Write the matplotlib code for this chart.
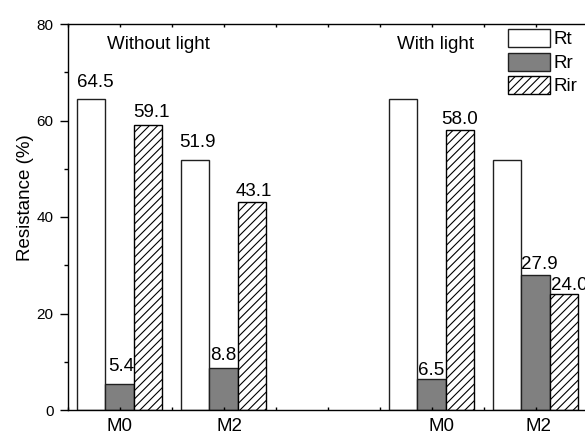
import numpy as np
import matplotlib
matplotlib.use("Agg")
import matplotlib.pyplot as plt
import matplotlib.transforms as mtransforms
from matplotlib.ticker import MultipleLocator

plt.rcParams['font.family'] = ['Liberation Sans', 'DejaVu Sans']
plt.rcParams['hatch.linewidth'] = 0.8

# Data
samples = ["M0", "M2", "M0", "M2"]
positions = [1, 2, 4, 5]
rt = [64.5, 51.9, 64.5, 51.9]
rr = [5.4, 8.8, 6.5, 27.9]
rir = [59.1, 43.1, 58.0, 24.0]
label_rt = [True, True, False, False]
conditions = ["Without light", "With light"]
condition_x = [0.88, 3.67]

W, H, DPI = 585, 433, 100
PT = 72 / DPI  # points per pixel
fig = plt.figure(figsize=(W / DPI, H / DPI), dpi=DPI)
ax = fig.add_axes([67.5 / W, 23 / H, 520 / W, 386 / H])

w = 0.27
x = np.array(positions, dtype=float)
b_rt = ax.bar(x - w, rt, w, facecolor="white", edgecolor="#202020", lw=1.0, label="Rt")
b_rr = ax.bar(x, rr, w, facecolor="#808080", edgecolor="#202020", lw=1.0, label="Rr")
b_rir = ax.bar(x + w, rir, w, facecolor="white", edgecolor="black", hatch="////",
               lw=1.0, label="Rir")

fs = 13.5

# Hand-placed value labels: (dx, dy) in pixels from the bar's top-left corner
rt_nudge = [(-0.7, 12), (-1.7, 12.6), None, None]
rr_nudge = [(2.3, 13), (1, 8), (0.3, 3.7), (0, 6.7)]
rir_nudge = [(-0.3, 7.7), (-2, 6), (-4.6, 5.7), (1.3, 4.7)]


def annotate(bars, values, nudges, flags=None):
    for i, (bar, v) in enumerate(zip(bars, values)):
        if flags is not None and not flags[i]:
            continue
        dx, dy = nudges[i]
        ax.annotate(f"{v:.1f}", (bar.get_x(), v), xytext=(dx * PT, dy * PT),
                    textcoords="offset points", ha="left", va="baseline",
                    fontsize=fs)


annotate(b_rt, rt, rt_nudge, label_rt)
annotate(b_rr, rr, rr_nudge)
annotate(b_rir, rir, rir_nudge)

for cx, txt in zip(condition_x, conditions):
    ax.text(cx, 74.9, txt, fontsize=fs, ha="left", va="baseline")

ax.set_xlim(0.5, 5.5)
ax.set_ylim(0, 80)
ax.set_xticks(positions)
ax.set_xticklabels(samples)
ax.xaxis.set_minor_locator(MultipleLocator(0.5))
ax.yaxis.set_major_locator(MultipleLocator(20))
ax.yaxis.set_minor_locator(MultipleLocator(10))

ax.tick_params(axis="x", which="both", direction="in", length=2.5, width=1,
               top=True, bottom=True, labelsize=fs, pad=6)
ax.tick_params(axis="y", which="major", direction="out", length=6, width=1,
               labelsize=11, pad=4)
ax.tick_params(axis="y", which="minor", direction="out", length=3, width=1)
for s in ax.spines.values():
    s.set_linewidth(1.0)

# Sample labels sit slightly off their ticks
label_shift_px = [-0.5, 6.5, 10.5, 3.0]
for lab, sh in zip(ax.get_xticklabels(), label_shift_px):
    lab.set_transform(lab.get_transform() +
                      mtransforms.ScaledTranslation(sh / DPI, 0, fig.dpi_scale_trans))

fig.text(25 / W, 1 - 198 / H, "Resistance (%)", rotation=90, fontsize=fs,
         ha="center", va="center")

ax.legend(loc="upper left", bbox_to_anchor=(508 / W, 1 - 29 / H),
          bbox_transform=fig.transFigure, frameon=False, fontsize=fs,
          borderpad=0, borderaxespad=0, handlelength=2.25, handleheight=1.1,
          labelspacing=0.22, handletextpad=0.2)

fig.savefig("out.png", dpi=DPI)
